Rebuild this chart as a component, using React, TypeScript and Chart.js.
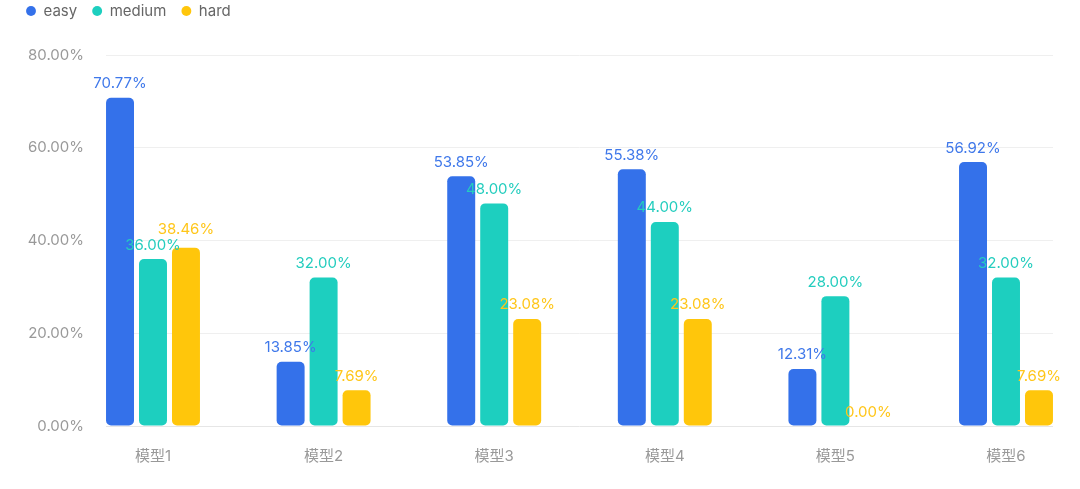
import React, { useRef, useEffect } from 'react';
import { Chart, registerables } from 'chart.js';
Chart.register(...registerables);

// данные
const categories = ['模型1', '模型2', '模型3', '模型4', '模型5', '模型6'];
const easyValues = [70.77, 13.85, 53.85, 55.38, 12.31, 56.92];
const mediumValues = [36.0, 32.0, 48.0, 44.0, 28.0, 32.0];
const hardValues = [38.46, 7.69, 23.08, 23.08, 0.0, 7.69];
const yTicks = [0, 20, 40, 60, 80];

const FONT = "Inter, 'Noto Sans CJK SC', sans-serif";

// подписи над столбцами (с простым сдвигом при наложении)
const valueLabels = {
  id: 'valueLabels',
  afterDatasetsDraw(chart: any) {
    const { ctx } = chart;
    ctx.save();
    ctx.font = `15px ${FONT}`;
    ctx.textAlign = 'center';
    ctx.textBaseline = 'middle';
    const placed: { l: number; r: number; t: number; b: number }[] = [];
    const H = 16;
    chart.data.datasets.forEach((ds: any, i: number) => {
      const meta = chart.getDatasetMeta(i);
      ctx.fillStyle = ds.labelColor;
      meta.data.forEach((bar: any, j: number) => {
        const text = ds.data[j].y.toFixed(2) + '%';
        const w = ctx.measureText(text).width;
        let cy = bar.y - 14;
        const l = bar.x - w / 2;
        const r = bar.x + w / 2;
        let moved = true;
        while (moved) {
          moved = false;
          for (const p of placed) {
            if (l < p.r && r > p.l && cy - H / 2 < p.b && cy + H / 2 > p.t) {
              cy = p.t - H / 2;
              moved = true;
            }
          }
        }
        placed.push({ l, r, t: cy - H / 2, b: cy + H / 2 });
        ctx.fillText(text, bar.x, cy);
      });
    });
    ctx.restore();
  },
};

// отступ под легендой
const legendMargin = {
  id: 'legendMargin',
  beforeInit(chart: any) {
    const fit = chart.legend.fit;
    chart.legend.fit = function () {
      fit.bind(chart.legend)();
      this.height += 26.5;
    };
  },
};

const toPoints = (arr: number[]) => arr.map((y, x) => ({ x, y }));

const App: React.FC = () => {
  const chartRef = useRef<HTMLCanvasElement>(null);
  const chartInstance = useRef<Chart | null>(null);

  useEffect(() => {
    document.body.style.margin = '0';
    if (!chartRef.current) return;
    if (chartInstance.current) chartInstance.current.destroy();
    const ctx = chartRef.current.getContext('2d');
    if (!ctx) return;

    const common = {
      borderRadius: 5,
      borderSkipped: false,
      categoryPercentage: 0.58,
      barPercentage: 0.848,
    };

    chartInstance.current = new Chart(ctx, {
      type: 'bar',
      data: {
        datasets: [
          { label: 'easy', data: toPoints(easyValues), backgroundColor: '#3471EA', labelColor: '#3F78EA', ...common } as any,
          { label: 'medium', data: toPoints(mediumValues), backgroundColor: '#1DCFBF', labelColor: '#24CDBE', ...common } as any,
          { label: 'hard', data: toPoints(hardValues), backgroundColor: '#FFC60B', labelColor: '#FFC61A', ...common } as any,
        ],
      },
      options: {
        responsive: true,
        maintainAspectRatio: false,
        animation: false,
        layout: { padding: { top: -11.5, left: 11, right: 27, bottom: 0 } },
        plugins: {
          legend: {
            position: 'top',
            align: 'start',
            labels: {
              usePointStyle: true,
              pointStyle: 'circle',
              boxWidth: 10,
              boxHeight: 7,
              padding: 15,
              color: '#666666',
              font: { size: 15, family: FONT },
            },
          },
          tooltip: { enabled: false },
        },
        scales: {
          x: {
            type: 'linear',
            offset: false,
            min: -0.2755,
            max: 5.2755,
            grid: { display: false, offset: false },
            border: { display: false },
            afterBuildTicks: (scale: any) => {
              scale.ticks = categories.map((_, i) => ({ value: i }));
            },
            afterFit: (scale: any) => {
              scale.height = 63;
            },
            ticks: {
              includeBounds: false,
              maxRotation: 0,
              autoSkip: false,
              padding: 13,
              color: '#999999',
              font: { size: 15, family: FONT },
              callback: (v: any) => categories[v] ?? '',
            },
          },
          y: {
            min: 0,
            max: 80,
            afterBuildTicks: (scale: any) => {
              scale.ticks = yTicks.map((value) => ({ value }));
            },
            afterFit: (scale: any) => {
              scale.width = 95;
            },
            border: { display: false },
            grid: {
              drawTicks: false,
              color: (c: any) => (c.tick && c.tick.value === 0 ? '#e6e6e6' : '#efefef'),
            },
            ticks: {
              padding: 22,
              color: '#999999',
              font: { size: 15, family: FONT },
              callback: (v: any) => Number(v).toFixed(2) + '%',
            },
          },
        },
      },
      plugins: [valueLabels, legendMargin],
    });

    return () => {
      chartInstance.current?.destroy();
    };
  }, []);

  return (
    <div style={{ width: 1080, height: 489, position: 'relative', background: '#fff' }}>
      <canvas ref={chartRef}></canvas>
    </div>
  );
};

export default App;
